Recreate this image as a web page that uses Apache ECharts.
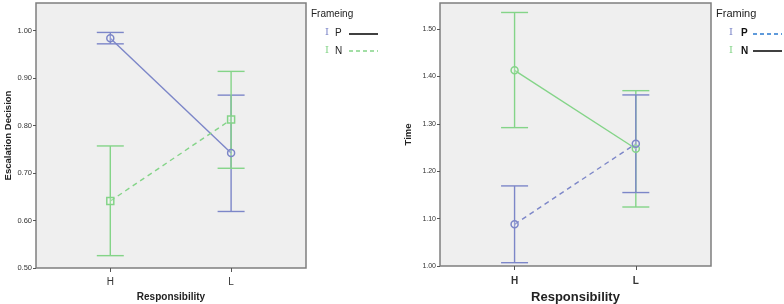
<!DOCTYPE html>
<html>
<head>
<meta charset="utf-8">
<script src="https://cdn.jsdelivr.net/npm/echarts@6/dist/echarts.min.js"></script>
<style>
  html, body { margin: 0; padding: 0; background: #fff; }
  #chart { width: 784px; height: 304px; }
</style>
</head>
<body>
<div id="chart"></div>
<script>
const categories = ['H', 'L']
// left panel: Escalation Decision
const escP = [0.984, 0.742]
const escPLow = [0.972, 0.619]
const escPHigh = [0.996, 0.864]
const escN = [0.641, 0.8125]
const escNLow = [0.526, 0.710]
const escNHigh = [0.757, 0.914]
const escTicks = [0.5, 0.6, 0.7, 0.8, 0.9, 1.0]
// right panel: Time
const timeP = [1.088, 1.258]
const timePLow = [1.007, 1.155]
const timePHigh = [1.169, 1.361]
const timeN = [1.413, 1.2475]
const timeNLow = [1.292, 1.1245]
const timeNHigh = [1.535, 1.370]
const timeTicks = [1.0, 1.1, 1.2, 1.3, 1.4, 1.5]

const blue = '#7c86c8'
const green = '#84d488'

function pts (arr) {
  return arr.map((v, i) => [i, v])
}
function bars (low, high) {
  return low.map((v, i) => [i, v, high[i]])
}

function errorSeries (low, high, color, idx) {
  return {
    type: 'custom',
    xAxisIndex: idx,
    yAxisIndex: idx,
    z: 3,
    data: bars(low, high),
    renderItem: function (params, api) {
      const lo = api.coord([api.value(0), api.value(1)])
      const hi = api.coord([api.value(0), api.value(2)])
      const w = 13.5
      const style = { stroke: color, lineWidth: 1.4 }
      return {
        type: 'group',
        children: [
          { type: 'line', shape: { x1: lo[0], y1: lo[1], x2: hi[0], y2: hi[1] }, style },
          { type: 'line', shape: { x1: lo[0] - w, y1: lo[1], x2: lo[0] + w, y2: lo[1] }, style },
          { type: 'line', shape: { x1: hi[0] - w, y1: hi[1], x2: hi[0] + w, y2: hi[1] }, style }
        ]
      }
    }
  }
}

function lineSeries (data, color, dashed, symbol, idx) {
  return {
    type: 'line',
    xAxisIndex: idx,
    yAxisIndex: idx,
    z: 4,
    data: pts(data),
    symbol: symbol,
    symbolSize: 7,
    lineStyle: { color: color, width: 1.4, type: dashed ? [5, 4] : 'solid' },
    itemStyle: { color: 'rgba(255,255,255,0.2)', borderColor: color, borderWidth: 1.5 }
  }
}

function xAxis (idx, bold, nameSize, gap, margin) {
  return {
    type: 'value',
    gridIndex: idx,
    min: -0.615,
    max: 1.62,
    splitLine: { show: false },
    axisLine: { show: false, onZero: false },
    axisTick: { show: true, length: 4, customValues: [0, 1], lineStyle: { color: '#555' } },
    axisLabel: {
      customValues: [0, 1],
      formatter: v => categories[Math.round(v)],
      color: '#333',
      fontSize: 10,
      fontWeight: bold ? 'bold' : 'normal',
      fontFamily: 'Liberation Sans, Arial, sans-serif',
      margin: margin
    },
    name: 'Responsibility',
    nameLocation: 'middle',
    nameGap: gap,
    nameTextStyle: { fontSize: nameSize, fontWeight: 'bold', color: '#222', fontFamily: 'Liberation Sans, Arial, sans-serif' }
  }
}

function yAxis (idx, min, max, ticks, name, gap, labelSize) {
  return {
    type: 'value',
    gridIndex: idx,
    min: min,
    max: max,
    splitLine: { show: false },
    axisLine: { show: false, onZero: false },
    axisTick: { show: true, length: 3, customValues: ticks, lineStyle: { color: '#555' } },
    axisLabel: {
      customValues: ticks,
      formatter: v => v.toFixed(2),
      fontSize: labelSize,
      color: '#333',
      margin: 4,
      fontFamily: 'Liberation Sans, Arial, sans-serif'
    },
    name: name,
    nameLocation: 'middle',
    nameGap: gap,
    nameTextStyle: { fontSize: 9.5, fontWeight: 'bold', color: '#222', fontFamily: 'Liberation Sans, Arial, sans-serif' }
  }
}

function legendText (x, y, text, color, bold, size, family) {
  return {
    type: 'text',
    left: x,
    top: y,
    style: { text: text, fill: color, font: (bold ? 'bold ' : '') + size + 'px ' + (family || 'Liberation Sans, Arial, sans-serif') }
  }
}
function legendLine (x1, x2, y, color, dashed) {
  return {
    type: 'line',
    shape: { x1: x1, y1: y, x2: x2, y2: y },
    style: { stroke: color, lineWidth: 1.5, lineDash: dashed ? [4, 3] : null }
  }
}

const serif = 'DejaVu Serif, serif'
const chart = echarts.init(document.getElementById('chart'))
chart.setOption({
  animation: false,
  backgroundColor: '#fff',
  grid: [
    { left: 36, top: 3, width: 270, height: 265, outerBoundsMode: 'none', show: true, backgroundColor: '#efefef', borderColor: '#7f7f7f', borderWidth: 1.5 },
    { left: 440, top: 3, width: 271, height: 263, outerBoundsMode: 'none', show: true, backgroundColor: '#efefef', borderColor: '#7f7f7f', borderWidth: 1.5 }
  ],
  xAxis: [xAxis(0, false, 10, 24, 9), xAxis(1, true, 13, 25, 10)],
  yAxis: [
    yAxis(0, 0.5, 1.058, escTicks, 'Escalation Decision', 18, 7.5),
    yAxis(1, 1.0, 1.555, timeTicks, 'Time', 27, 7)
  ],
  series: [
    errorSeries(escPLow, escPHigh, blue, 0),
    errorSeries(escNLow, escNHigh, green, 0),
    lineSeries(escP, blue, false, 'circle', 0),
    lineSeries(escN, green, true, 'rect', 0),
    errorSeries(timeNLow, timeNHigh, green, 1),
    errorSeries(timePLow, timePHigh, blue, 1),
    lineSeries(timeN, green, false, 'circle', 1),
    lineSeries(timeP, blue, true, 'circle', 1)
  ],
  graphic: [
    legendText(311, 9, 'Frameing', '#222', false, 10),
    legendText(325, 27, 'I', blue, false, 10, serif),
    legendText(335, 28, 'P', '#222', false, 10),
    legendLine(349, 378, 34, '#000', false),
    legendText(325, 45, 'I', green, false, 10, serif),
    legendText(335, 46, 'N', '#222', false, 10),
    legendLine(349, 378, 51, green, true),
    legendText(716, 8, 'Framing', '#222', false, 11),
    legendText(729, 27, 'I', blue, false, 10, serif),
    legendText(741, 28, 'P', '#111', true, 10),
    legendLine(753, 782, 34, '#2a7ad0', true),
    legendText(729, 45, 'I', green, false, 10, serif),
    legendText(741, 46, 'N', '#111', true, 10),
    legendLine(753, 782, 51, '#000', false)
  ]
})
</script>
</body>
</html>
